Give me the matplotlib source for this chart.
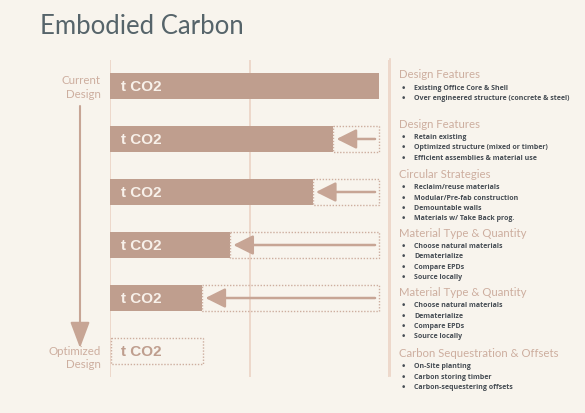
import matplotlib.pyplot as plt
from matplotlib.patches import Rectangle, FancyArrowPatch

# bar values (share of current design, gridlines at 0 / 50 / 100)
stages = ["Current Design", "Design Features", "Circular Strategies",
          "Material Type & Quantity", "Material Type & Quantity", "Optimized Design"]
values = [96.4, 80, 72.6, 43, 33, 33]
bar_label = "t CO2"

headers = ["Design Features", "Design Features", "Circular Strategies",
           "Material Type & Quantity", "Material Type & Quantity",
           "Carbon Sequestration & Offsets"]
bullets = [
    ["Existing Office Core & Shell", "Over engineered structure (concrete & steel)"],
    ["Retain existing", "Optimized structure (mixed or timber)",
     "Efficient assemblies & material use"],
    ["Reclaim/reuse materials", "Modular/Pre-fab construction",
     "Demountable walls", "Materials w/ Take Back prog."],
    ["Choose natural materials", "Dematerialize", "Compare EPDs", "Source locally"],
    ["Choose natural materials", "Dematerialize", "Compare EPDs", "Source locally"],
    ["On-Site planting", "Carbon storing timber", "Carbon-sequestering offsets"],
]
header_y = [74.7, 124, 174.3, 233.2, 292.3, 353.3]  # pixel rows of the headers

BG = "#F8F4ED"
BAR = "#BF9E8E"
LIGHT = "#CDAE9F"
GRID = "#EBD3C5"
DARK = "#454C53"

W, H = 585, 414
fig = plt.figure(figsize=(W / 100, H / 100), dpi=100, facecolor=BG)


def fx(px):
    return px / W


def fy(py):
    return 1 - py / H


fig.text(fx(40), fy(27), "Embodied Carbon", fontsize=18.5, family="Lato",
         color="#56646A", va="center", ha="left")

ax = fig.add_axes([fx(110), fy(378), fx(389) - fx(110), (378 - 61) / H])
ax.set_facecolor(BG)
ax.set_xlim(0, 100)
ax.set_ylim(5.49, -0.49)
ax.axis("off")
for g in (0, 50, 100):
    ax.axvline(g, color=GRID, lw=1.2, zorder=0)

current = values[0]
for i, v in enumerate(values):
    last = i == len(values) - 1
    if last:
        ax.add_patch(Rectangle((0.3, i - 0.25), v, 0.5, fill=False, ls=(0, (1, 1.2)),
                               ec=LIGHT, lw=1, zorder=2))
        txt_color = BAR
    else:
        ax.barh(i, v, height=0.5, color=BAR, zorder=2)
        txt_color = "#F8F1EA"
        if i > 0:
            ax.add_patch(Rectangle((v, i - 0.25), current - v, 0.5, fill=False,
                                   ls=(0, (1, 1.2)), ec=LIGHT, lw=1, zorder=2))
            ax.add_patch(FancyArrowPatch((95, i), (v + 1.2, i),
                                         arrowstyle="-|>,head_length=0.6,head_width=0.3",
                                         mutation_scale=20, color="#C7A595", lw=1.8,
                                         shrinkA=0, shrinkB=0, zorder=3))
    ax.text(3.8, i, bar_label, color=txt_color, fontsize=11, fontweight="bold",
            family="Liberation Sans", va="center", ha="left", zorder=4)

# stage labels and the downward arrow on the left
fig.text(fx(101), fy(87.5), "Current\nDesign", ha="right", va="center",
         fontsize=8.3, family="Lato", color=LIGHT, linespacing=1.25)
fig.text(fx(101), fy(358), "Optimized\nDesign", ha="right", va="center",
         fontsize=8.3, family="Lato", color=LIGHT, linespacing=1.25)
fig.add_artist(FancyArrowPatch((fx(80), fy(107)), (fx(80), fy(349)),
                               transform=fig.transFigure,
                               arrowstyle="-|>,head_length=0.8,head_width=0.3",
                               mutation_scale=20, color="#C7A595", lw=1.5,
                               shrinkA=0, shrinkB=0))

# right panel
fig.add_artist(plt.Line2D([fx(390), fx(390)], [fy(60), fy(377)],
                          transform=fig.transFigure, color=GRID, lw=1.2))
for hdr, items, y0 in zip(headers, bullets, header_y):
    fig.text(fx(399), fy(y0), hdr, fontsize=8.2, family="Lato", color=LIGHT,
             va="center", ha="left")
    for k, item in enumerate(items):
        yy = y0 + 13.5 + k * 10.3
        fig.text(fx(401), fy(yy), "\u2022", fontsize=6.5, color=DARK, va="center", ha="left")
        fig.text(fx(414), fy(yy), item, fontsize=5, fontweight="bold", family="Open Sans",
                 color=DARK, va="center", ha="left")

fig.savefig("out.png", dpi=100, facecolor=BG)
